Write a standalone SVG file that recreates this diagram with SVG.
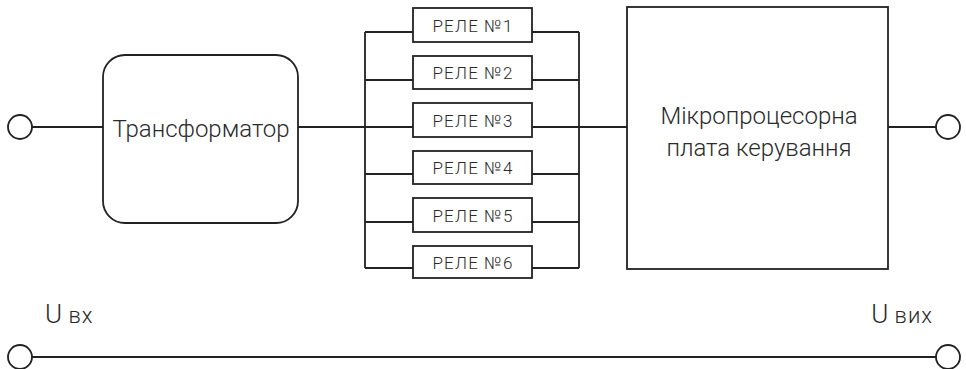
<svg xmlns="http://www.w3.org/2000/svg" width="966" height="369" viewBox="0 0 966 369">
<style>
.s{fill:none;stroke:#222;stroke-width:1.8}
.b{fill:#fff;stroke:#222;stroke-width:1.8}
.t{font-family:Roboto,"Liberation Sans",sans-serif;font-weight:300;fill:#2a2a2a;text-anchor:middle}
.r{font-size:17px;letter-spacing:1.2px}
.big{font-size:24px}
</style>
<rect width="966" height="369" fill="#fff"/>
<g id="connectors">
<path class="s" d="M32 127H103M298 127H365M365 32V268M579 32V268M579 127H627M888 127H936"/>
<path class="s" d="M365 32H413M532 32H579M365 80H413M532 80H579M365 127H413M532 127H579M365 174H413M532 174H579M365 222H413M532 222H579M365 268H413M532 268H579"/>
<path class="s" d="M32 357H936"/>
</g>
<g id="in-top"><circle class="b" cx="20" cy="127" r="12"/></g>
<g id="out-top"><circle class="b" cx="948" cy="127" r="12"/></g>
<g id="in-bottom"><circle class="b" cx="20" cy="357" r="12"/></g>
<g id="out-bottom"><circle class="b" cx="948" cy="357" r="12"/></g>
<g id="transformer">
<rect class="b" x="103" y="55" width="195" height="168" rx="22"/>
<text class="t big" x="201" y="137" font-size="25">Трансформатор</text>
</g>
<g id="relay1"><rect class="b" x="413" y="8" width="119" height="34"/><text class="t r" x="473" y="32">РЕЛЕ №1</text></g>
<g id="relay2"><rect class="b" x="413" y="56" width="119" height="33"/><text class="t r" x="473" y="79">РЕЛЕ №2</text></g>
<g id="relay3"><rect class="b" x="413" y="103" width="119" height="34"/><text class="t r" x="473" y="127">РЕЛЕ №3</text></g>
<g id="relay4"><rect class="b" x="413" y="151" width="119" height="33"/><text class="t r" x="473" y="174">РЕЛЕ №4</text></g>
<g id="relay5"><rect class="b" x="413" y="198" width="119" height="34"/><text class="t r" x="473" y="222">РЕЛЕ №5</text></g>
<g id="relay6"><rect class="b" x="413" y="246" width="119" height="32"/><text class="t r" x="473" y="269">РЕЛЕ №6</text></g>
<g id="mcu">
<rect class="b" x="627" y="7" width="261" height="262"/>
<text class="t big" x="759" y="124">Мікропроцесорна</text>
<text class="t big" x="759" y="156">плата керування</text>
</g>
<g id="label-in"><text class="t" x="45" y="323" font-size="26" style="text-anchor:start"><tspan>U</tspan><tspan font-size="22" letter-spacing="1"> вх</tspan></text></g>
<g id="label-out"><text class="t" x="933" y="323" font-size="26" style="text-anchor:end"><tspan>U</tspan><tspan font-size="22" letter-spacing="1"> вих</tspan></text></g>
</svg>
